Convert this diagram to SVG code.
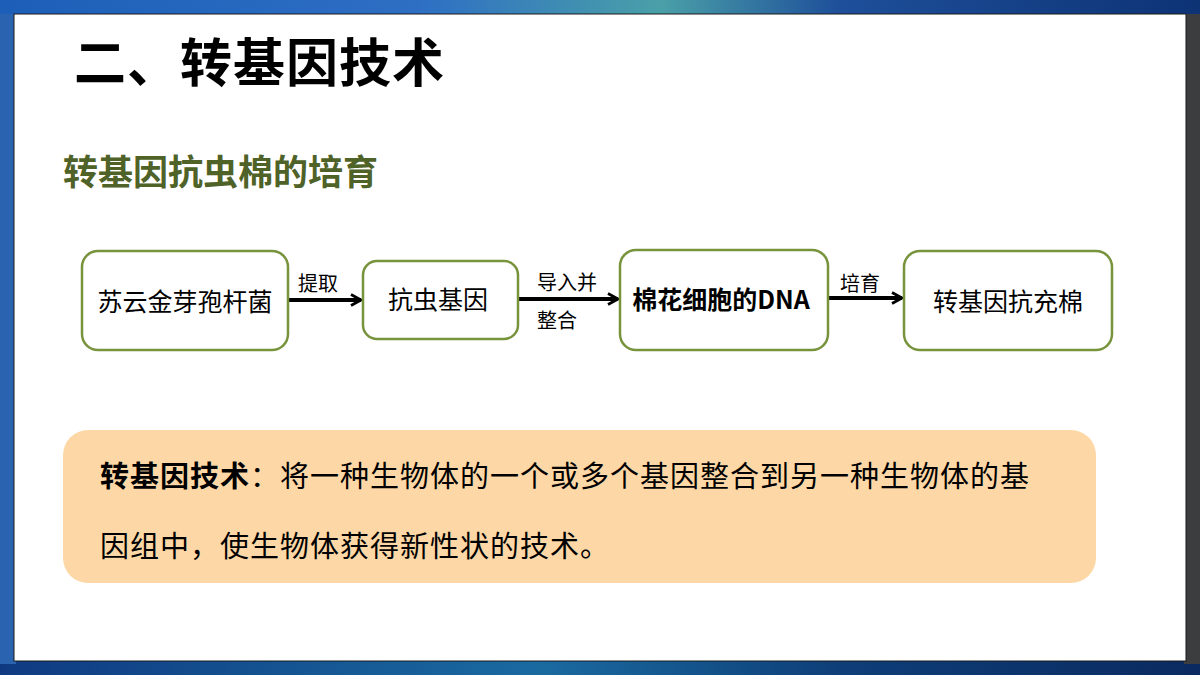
<svg xmlns="http://www.w3.org/2000/svg" width="1200" height="675" viewBox="0 0 1200 675">
<defs>
<linearGradient id="bgTop" x1="0" y1="0" x2="1" y2="0">
<stop offset="0" stop-color="#1d5fb8"/>
<stop offset="0.35" stop-color="#2e6fc4"/>
<stop offset="0.55" stop-color="#4aa0a8"/>
<stop offset="0.7" stop-color="#1e4f9a"/>
<stop offset="1" stop-color="#0d3375"/>
</linearGradient>
<linearGradient id="bgBot" x1="0" y1="0" x2="1" y2="0">
<stop offset="0" stop-color="#0f3a82"/>
<stop offset="0.45" stop-color="#1a6aa0"/>
<stop offset="0.7" stop-color="#0e3e78"/>
<stop offset="1" stop-color="#0a2a60"/>
</linearGradient>
<marker id="arr" viewBox="0 0 14 14" refX="12" refY="7" markerWidth="14" markerHeight="14" markerUnits="userSpaceOnUse" orient="auto">
<path d="M2,1.5 L12,7 L2,12.5" fill="none" stroke="#000" stroke-width="2.8" stroke-linejoin="miter"/>
</marker>
<style>
.node rect{fill:#fff;stroke:#77933c;stroke-width:2.5}
.nt{font-family:"Noto Sans CJK SC","Noto Sans",sans-serif;font-size:25px;fill:#000;text-anchor:middle;dominant-baseline:central}
.lb{font-family:"Noto Sans CJK SC","Noto Sans",sans-serif;font-size:20px;fill:#000}
.conn line{stroke:#000;stroke-width:4;marker-end:url(#arr)}
.dt{font-family:"Noto Sans CJK SC","Noto Sans",sans-serif;font-size:29px;fill:#000;letter-spacing:1px}
</style>
</defs>
<rect x="0" y="0" width="1200" height="675" fill="url(#bgTop)"/>
<rect x="0" y="640" width="1200" height="35" fill="url(#bgBot)"/>
<rect x="0" y="14" width="16" height="650" fill="#2a63b0"/>
<rect x="1184" y="14" width="16" height="650" fill="#3b3d3e"/>
<rect x="14" y="14" width="1172" height="647" fill="#fff" stroke="#1a1a1a" stroke-width="1"/>

<text x="74" y="82" font-family="'Noto Sans CJK SC',sans-serif" font-size="52" font-weight="bold" letter-spacing="1" fill="#000">二、转基因技术</text>
<text x="63" y="185" font-family="'Noto Sans CJK SC',sans-serif" font-size="35" font-weight="bold" fill="#4f6228">转基因抗虫棉的培育</text>

<g id="conn" class="conn">
<line x1="288" y1="300" x2="361" y2="300"/>
<line x1="518" y1="299" x2="618" y2="299"/>
<line x1="828" y1="298" x2="902" y2="298"/>
<text class="lb" x="298" y="291">提取</text>
<text class="lb" x="537" y="290">导入并</text>
<text class="lb" x="537" y="328">整合</text>
<text class="lb" x="840" y="291">培育</text>
</g>

<g id="n1" class="node"><rect x="82" y="251" width="206" height="99" rx="16"/><text class="nt" x="185" y="300">苏云金芽孢杆菌</text></g>
<g id="n2" class="node"><rect x="363" y="261" width="155" height="78" rx="14"/><text class="nt" x="438" y="298">抗虫基因</text></g>
<g id="n3" class="node"><rect x="620" y="250" width="208" height="100" rx="16"/><text class="nt" x="721" y="298" font-weight="bold">棉花细胞的DNA</text></g>
<g id="n4" class="node"><rect x="904" y="251" width="208" height="99" rx="16"/><text class="nt" x="1008" y="300">转基因抗充棉</text></g>

<g id="def">
<rect x="63" y="430" width="1033" height="153" rx="25" fill="#fdd8a6"/>
<text class="dt" x="100" y="487"><tspan font-weight="bold">转基因技术</tspan>：将一种生物体的一个或多个基因整合到另一种生物体的基</text>
<text class="dt" x="100" y="557">因组中，使生物体获得新性状的技术。</text>
</g>
</svg>
